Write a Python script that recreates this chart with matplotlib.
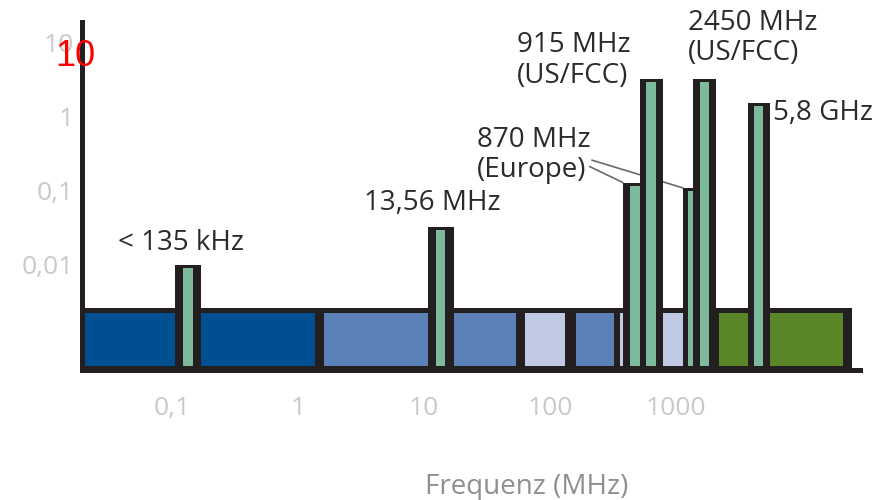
import numpy as np
import matplotlib.pyplot as plt

plt.rcParams['font.family'] = ['Open Sans', 'DejaVu Sans']

# Frequenzbereiche (MHz) im Hintergrund
band_lo = [0.0204, 1.61, 63.4, 160.8, 359, 2194]
band_hi = [1.36, 53.7, 131.5, 322, 1291, 21150]
band_col = ['#004f91', '#5b81b6', '#c0cae4', '#5b81b6', '#c0cae4', '#5a8627']

# RFID-Frequenzen (Lage auf der Achse, MHz) und Leistung (W)
bar_freq = [0.135, 13.56, 473, 639, 1303, 1699, 4560]
bar_power = [0.01, 0.033, 0.13, 3.3, 0.11, 3.3, 1.55]

xticks = [0.1, 1, 10, 100, 1000]
xtick_labels = ['0,1', '1', '10', '100', '1000']
yticks = [0.01, 0.1, 1, 10]
ytick_labels = ['0,01', '0,1', '1', '10']

# Balkenbreiten in Pixel (aussen schwarz, innen grün)
outer_px = [26, 26, 24, 23, 15, 23, 22]
inner_px = [10, 9, 10, 10, 5, 9, 9]

W, H = 880, 500
ax_box = [82, 22, 860, 370]          # left, top, right, bottom in px
xlim = (0.0193, 28900)
ylim = (3.81e-4, 19.2)

fig = plt.figure(figsize=(W / 100, H / 100), dpi=100)
ax = fig.add_axes([ax_box[0] / W, 1 - ax_box[3] / H,
                   (ax_box[2] - ax_box[0]) / W, (ax_box[3] - ax_box[1]) / H])
ax.set_xscale('log')
ax.set_yscale('log')
ax.set_xlim(*xlim)
ax.set_ylim(*ylim)

px_dec_x = (ax_box[2] - ax_box[0]) / np.log10(xlim[1] / xlim[0])
px_dec_y = (ax_box[3] - ax_box[1]) / np.log10(ylim[1] / ylim[0])


def xspan(f, px):
    d = 10 ** (px / 2 / px_dec_x)
    return f / d, f * d


black = '#231f20'
bar_green = '#7dba9c'

# schwarzer Kasten + farbige Bänder
box_top = 0.00262
ax.bar(xlim[0], box_top - ylim[0], width=24950 - xlim[0], bottom=ylim[0],
       align='edge', color=black, zorder=1)
cell_lo, cell_hi = 0.000431, 0.00224
for lo, hi, c in zip(band_lo, band_hi, band_col):
    ax.bar(lo, cell_hi - cell_lo, width=hi - lo, bottom=cell_lo,
           align='edge', color=c, zorder=1.1)

# Balken
for i, (f, p) in enumerate(zip(bar_freq, bar_power)):
    l0, r0 = xspan(f, outer_px[i])
    ax.bar(l0, p - ylim[0], width=r0 - l0, bottom=ylim[0], align='edge',
           color=black, zorder=2 + i * 0.01)
    l1, r1 = xspan(f, inner_px[i])
    top = p * 10 ** (-3.5 / px_dec_y)
    ax.bar(l1, top - cell_lo, width=r1 - l1, bottom=cell_lo, align='edge',
           color=bar_green, zorder=2.005 + i * 0.01)

# Beschriftungen
txt = dict(color='#2b2b2b', fontsize=20, textcoords='offset points')
ax.annotate('< 135 kHz', (bar_freq[0], bar_power[0]), xytext=(-5, 16),
            ha='center', va='center', **txt)
ax.annotate('13,56 MHz', (bar_freq[1], bar_power[1]), xytext=(-6, 17),
            ha='center', va='center', **txt)
ax.annotate('870 MHz\n(Europe)', (bar_freq[2], bar_power[2]), xytext=(-114, 20),
            ha='left', va='center', linespacing=1.1, **txt)
ax.annotate('915 MHz\n(US/FCC)', (bar_freq[3], bar_power[3]), xytext=(-97, 13),
            ha='left', va='center', linespacing=1.1, **txt)
ax.annotate('2450 MHz\n(US/FCC)', (bar_freq[5], bar_power[5]), xytext=(-12, 29),
            ha='left', va='center', linespacing=1.1, **txt)
ax.annotate('5,8 GHz', (bar_freq[6], bar_power[6]), xytext=(10, -7),
            ha='left', va='center', **txt)

# Hinweislinien zu den europäischen Balken
line = dict(arrowstyle='-', color='#6a6a6a', lw=1.2, shrinkA=0, shrinkB=0)
ax.annotate('', (xspan(bar_freq[2], outer_px[2])[0], bar_power[2]),
            xytext=(-24, 11.5), textcoords='offset points',
            arrowprops=line, zorder=1.5)
ax.annotate('', (xspan(bar_freq[4], outer_px[4])[0], bar_power[4]),
            xytext=(-65.5, 20), textcoords='offset points',
            arrowprops=line, zorder=1.5)

# Achsen
for s in ['top', 'right']:
    ax.spines[s].set_visible(False)
for s in ['left', 'bottom']:
    ax.spines[s].set_color(black)
    ax.spines[s].set_linewidth(3.6)
    ax.spines[s].set_zorder(3)

ax.set_xticks(xticks)
ax.set_xticklabels(xtick_labels)
ax.set_yticks(yticks)
ax.set_yticklabels(ytick_labels)
ax.minorticks_off()
ax.tick_params(axis='both', length=0, labelcolor='#c9c9c9', labelsize=19)
ax.tick_params(axis='x', pad=19)
ax.tick_params(axis='y', pad=6)

fig.text(527 / W, 1 - 487 / H, 'Frequenz (MHz)', color='#8f8f8f',
         fontsize=20, ha='center', va='center')
fig.text(75 / W, 1 - 56 / H, '10', color='red', fontsize=26,
         family='Liberation Sans', ha='center', va='center')

fig.savefig('out.png', dpi=100)
